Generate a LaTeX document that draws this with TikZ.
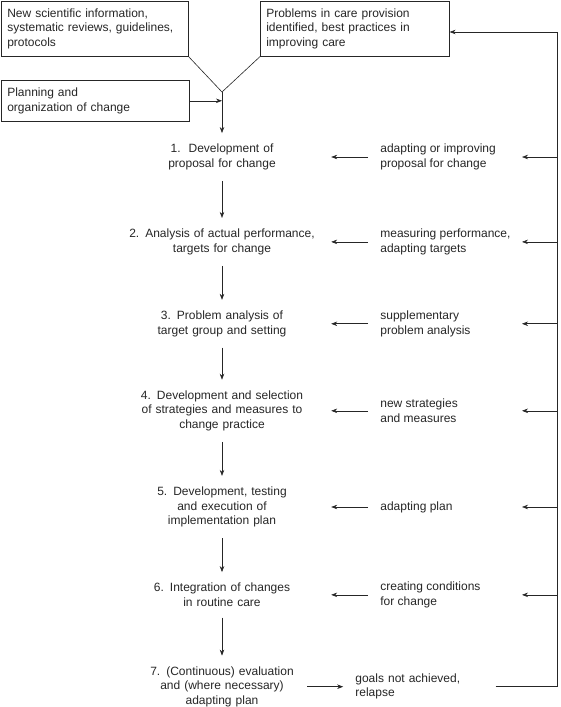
\documentclass[tikz,border=0pt]{standalone}
\usepackage{fontspec}
\setmainfont{Liberation Sans}
\usetikzlibrary{arrows.meta,positioning,calc}
\tikzset{
  wire/.style={draw=black!85, line width=0.6pt},
  arrow/.style={wire, -{Stealth[length=6pt,width=4.5pt]}},
  src/.style={wire, anchor=north west, align=left, inner xsep=6pt, minimum height=55pt},
  stage/.style={align=center, text width=214pt, inner xsep=2pt, inner ysep=11pt},
  fb/.style={align=left, inner xsep=12pt}
}

\begin{document}
\begin{tikzpicture}[x=1pt, y=-1pt, node distance=34pt,
    every node/.style={font=\fontsize{12}{14.3}\selectfont, text=black!85}]
    \useasboundingbox (0,0) rectangle (560,707);

    % sources of change
    \node[src, text width=175pt] (pa) at (1,1) {New scientific information,\\ systematic reviews, guidelines,\\ protocols};
    \node[src, text width=177pt] (pb) at (260,1) {Problems in care provision\\ identified, best practices in\\ improving care};
    \node[src, text width=176pt, minimum height=41pt] (pc) at (1,80) {Planning and\\ organization of change};
    \coordinate (jn) at (222,92);
    \coordinate (rail) at (557,32);
    \coordinate (tip) at (522,0);

    % stages
    \node[stage] (s1) at (222,157) {1.\ \ Development of\\ proposal for change};
    \node[stage, below=37pt of s1] (s2) {2. Analysis of actual performance,\\ targets for change};
    \node[stage, below=of s2] (s3) {3. Problem analysis of\\ target group and setting};
    \node[stage, below=32pt of s3] (s4) {4. Development and selection\\ of strategies and measures to\\ change practice};
    \node[stage, below=of s4] (s5) {5. Development, testing\\ and execution of\\ implementation plan};
    \node[stage, below=of s5] (s6) {6. Integration of changes\\ in routine care};
    \node[stage, text width=166pt, below=38pt of s6] (s7) {7. (Continuous) evaluation\\ and (where necessary)\\ adapting plan};

    % feedback
    \node[fb, right=37pt of s1] (r1) {adapting or improving\\ proposal for change};
    \node[fb, right=37pt of s2] (r2) {measuring performance,\\ adapting targets};
    \node[fb, right=37pt of s3] (r3) {supplementary\\ problem analysis};
    \node[fb, right=37pt of s4] (r4) {new strategies\\ and measures};
    \node[fb, right=37pt of s5] (r5) {adapting plan};
    \node[fb, right=37pt of s6] (r6) {creating conditions\\ for change};
    \node[fb, text width=128pt, right=36pt of s7] (g7) {goals not achieved,\\ relapse};

    \draw[wire] (pa.south east) -- (jn) -- (pb.south west);
    \draw[arrow] (pc.east) -- (pc.east -| jn);
    \draw[arrow] (jn) -- (s1);
    \foreach \a/\b in {s1/s2, s2/s3, s3/s4, s4/s5, s5/s6, s6/s7}
      \draw[arrow] (\a) -- (\b);
    \foreach \i in {1,...,6} {
      \draw[arrow] (r\i.west) -- (s\i.east);
      \draw[arrow] (r\i -| rail) -- (r\i -| tip);
    }
    \draw[arrow] (s7) -- (g7);
    \draw[arrow] (g7.east) -| (rail) -- (rail -| pb.east);
\end{tikzpicture}
\end{document}
